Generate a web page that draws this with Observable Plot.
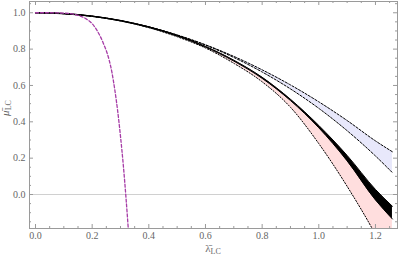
<!DOCTYPE html>
<html>
<head>
<meta charset="utf-8">
<script src="https://cdn.jsdelivr.net/npm/d3@7"></script>
<script src="https://cdn.jsdelivr.net/npm/@observablehq/plot@0.6"></script>
<style>
  html, body { margin: 0; padding: 0; background: #fff; }
  svg { display: block; }
  svg text { font-family: "Liberation Serif", "Times New Roman", "DejaVu Serif", serif !important; }
</style>
</head>
<body>
<div id="chart"></div>
<script>
// ---- data ----
const lam     = [0, 0.1, 0.2, 0.3, 0.4, 0.5, 0.6, 0.7, 0.8, 0.9, 1.0, 1.1, 1.2, 1.26];
const blackHi = [1, 0.996, 0.982, 0.958, 0.923, 0.876, 0.815, 0.739, 0.645, 0.524, 0.380, 0.215, 0.028, -0.065];
const blackLo = [1, 0.994, 0.980, 0.955, 0.919, 0.872, 0.811, 0.734, 0.639, 0.517, 0.367, 0.185, -0.030, -0.135];
const pinkLo  = [1, 0.995, 0.980, 0.955, 0.918, 0.868, 0.806, 0.722, 0.620, 0.480, 0.280, 0.045, -0.220, -0.40];
const lavHi   = [1, 0.995, 0.980, 0.956, 0.922, 0.878, 0.824, 0.760, 0.686, 0.603, 0.510, 0.407, 0.295, 0.235];
const lavLo   = [1, 0.995, 0.981, 0.957, 0.922, 0.877, 0.822, 0.754, 0.674, 0.581, 0.474, 0.351, 0.212, 0.120];

const lamP = [0, 0.05, 0.1, 0.14, 0.18, 0.2, 0.22, 0.24, 0.26, 0.27, 0.28, 0.29, 0.30, 0.31, 0.32, 0.328];
const muP  = [1, 1, 0.998, 0.99, 0.965, 0.94, 0.895, 0.83, 0.74, 0.67, 0.575, 0.46, 0.32, 0.16, -0.03, -0.2];

const xTicks = [0, 0.2, 0.4, 0.6, 0.8, 1.0, 1.2];
const yTicks = [0, 0.2, 0.4, 0.6, 0.8, 1.0];
const xMinor = [0.05,0.1,0.15,0.25,0.3,0.35,0.45,0.5,0.55,0.65,0.7,0.75,0.85,0.9,0.95,1.05,1.1,1.15,1.25];
const yMinor = [-0.15,-0.1,-0.05,0.05,0.1,0.15,0.25,0.3,0.35,0.45,0.5,0.55,0.65,0.7,0.75,0.85,0.9,0.95,1.05];

const rows = lam.map((l, i) => ({l, bh: blackHi[i], bl: blackLo[i], pl: pinkLo[i], vh: lavHi[i], vl: lavLo[i]}));
const prow = lamP.map((l, i) => ({l, m: muP[i]}));

const W = 399, H = 256, mL = 29, mR = 2, mT = 1, mB = 28;
const fw = W - mL - mR, fh = H - mT - mB;
const gray = "#9a9a9a";
const font = "Liberation Serif";
const curve = "monotone-x";

const plot = Plot.plot({
  width: W, height: H,
  marginLeft: mL, marginRight: mR, marginTop: mT, marginBottom: mB,
  x: {domain: [-0.0212, 1.2778]},
  y: {domain: [-0.187, 1.062]},
  style: {fontFamily: font, fontSize: "10px", color: "#666", background: "#fff"},
  marks: [
    Plot.ruleY([0], {stroke: "#d0d0d0", strokeWidth: 1}),
    Plot.areaY(rows, {x: "l", y1: "pl", y2: "bh", fill: "#ffdede", curve, clip: true}),
    Plot.areaY(rows, {x: "l", y1: "vl", y2: "vh", fill: "#e8e8fb", curve, clip: true}),
    Plot.line(rows, {x: "l", y: "pl", stroke: "#000", strokeWidth: 1, strokeDasharray: "1.3,1.7", curve, clip: true}),
    Plot.line(rows, {x: "l", y: "vh", stroke: "#000", strokeWidth: 1, strokeDasharray: "2.2,1.6", curve, clip: true}),
    Plot.line(rows, {x: "l", y: "vl", stroke: "#000", strokeWidth: 1, strokeDasharray: "2.2,1.6", curve, clip: true}),
    Plot.areaY(rows, {x: "l", y1: "bl", y2: "bh", fill: "#000", curve, clip: true}),
    Plot.line(rows, {x: "l", y: "bh", stroke: "#000", strokeWidth: 1, curve, clip: true}),
    Plot.line(rows, {x: "l", y: "bl", stroke: "#000", strokeWidth: 1, curve, clip: true}),
    Plot.line(prow, {x: "l", y: "m", stroke: "#a63ca6", strokeWidth: 1.3, strokeDasharray: "3,2", curve, clip: true}),
    // frame
    Plot.frame({stroke: gray, strokeWidth: 1}),
    // ticks (inward) on all four sides
    Plot.tickX(xTicks, {x: d => d, stroke: gray, insetTop: fh - 4}),
    Plot.tickX(xMinor, {x: d => d, stroke: gray, insetTop: fh - 2}),
    Plot.tickX(xTicks, {x: d => d, stroke: gray, insetBottom: fh - 4}),
    Plot.tickX(xMinor, {x: d => d, stroke: gray, insetBottom: fh - 2}),
    Plot.tickY(yTicks, {y: d => d, stroke: gray, insetRight: fw - 4}),
    Plot.tickY(yMinor, {y: d => d, stroke: gray, insetRight: fw - 2}),
    Plot.tickY(yTicks, {y: d => d, stroke: gray, insetLeft: fw - 4}),
    Plot.tickY(yMinor, {y: d => d, stroke: gray, insetLeft: fw - 2}),
    Plot.axisX(xTicks, {tickSize: 0, tickPadding: 3, tickFormat: d3.format(".1f"), label: null, fill: "#666", fontFamily: font, fontSize: 10}),
    Plot.axisY(yTicks, {tickSize: 0, tickPadding: 4, tickFormat: d3.format(".1f"), label: null, fill: "#666", fontFamily: font, fontSize: 10})
  ]
});

document.getElementById("chart").appendChild(plot);

// axis labels with overbar + subscript
const svg = d3.select(plot);
const xl = svg.append("text")
  .attr("x", mL + fw / 2).attr("y", 252)
  .attr("text-anchor", "middle")
  .attr("font-family", font)
  .attr("font-size", 11).attr("fill", "#666");
xl.append("tspan").text("λ\u0304");
xl.append("tspan").attr("font-size", 8).attr("dy", 2).text("LC");

const yl = svg.append("text")
  .attr("transform", `translate(9, 108) rotate(-90)`)
  .attr("text-anchor", "middle")
  .attr("font-family", font)
  .attr("font-size", 11).attr("fill", "#666");
yl.append("tspan").attr("font-style", "italic").text("μ\u0304");
yl.append("tspan").attr("font-size", 8).attr("dy", 2).text("LC");
</script>
</body>
</html>
